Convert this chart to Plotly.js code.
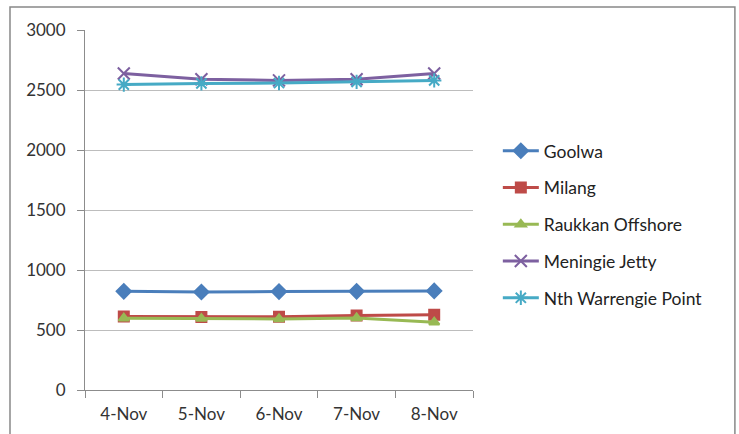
<!DOCTYPE html>
<html>
<head>
<meta charset="utf-8">
<script src="https://cdn.plot.ly/plotly-3.0.1.min.js"></script>
<style>html,body{margin:0;padding:0;background:#fff;}#chart{width:739px;height:434px;}</style>
</head>
<body>
<div id="chart"></div>
<script>
const categories = ["4-Nov", "5-Nov", "6-Nov", "7-Nov", "8-Nov"];
const seriesNames = ["Goolwa", "Milang", "Raukkan Offshore", "Meningie Jetty", "Nth Warrengie Point"];
const goolwa = [822, 817, 820, 822, 826];
const milang = [612, 608, 610, 620, 628];
const raukkan = [598, 595, 592, 600, 565];
const meningie = [2638, 2590, 2580, 2590, 2638];
const warrengie = [2545, 2555, 2558, 2568, 2580];
const yTicks = [0, 500, 1000, 1500, 2000, 2500, 3000];

const colors = ["#4A7EBB", "#BE4B48", "#98B954", "#7D60A0", "#46AAC5"];
const symbols = ["diamond", "square", "triangle-up", "x-thin-open", "asterisk-open"];
const sizes = [11, 10, 9, 12, 12];
const values = [goolwa, milang, raukkan, meningie, warrengie];

const traces = values.map((v, i) => ({
  type: "scatter",
  mode: "lines+markers",
  name: seriesNames[i],
  legendgroup: "g" + i,
  x: categories,
  y: v,
  line: {color: colors[i], width: 3},
  marker: {symbol: symbols[i], size: sizes[i], color: colors[i], line: {color: colors[i], width: 2}}
}));

const layout = {
  width: 739, height: 434,
  margin: {l: 85, r: 266, t: 30, b: 44},
  paper_bgcolor: "#fff", plot_bgcolor: "#fff",
  font: {family: "Lato, 'Liberation Sans', sans-serif", size: 17, color: "#333"},
  showlegend: true,
  legend: {x: 1.064, xanchor: "left", y: 0.46, yanchor: "middle", tracegroupgap: 11, itemwidth: 36,
           font: {size: 17.5, color: "#222"}, bgcolor: "rgba(0,0,0,0)"},
  xaxis: {type: "category", range: [-0.5, 4.5], showgrid: false, showline: true, linecolor: "#8c8c8c", linewidth: 1,
          ticks: "outside", tickson: "boundaries", ticklen: 7, tickcolor: "#8c8c8c", fixedrange: true,
          tickfont: {size: 17, color: "#333"}, ticklabelstandoff: 9},
  yaxis: {range: [0, 3000], tickvals: yTicks, ticktext: yTicks.map(String), showgrid: true, gridcolor: "#bdbdbd", gridwidth: 1,
          showline: true, linecolor: "#8c8c8c", linewidth: 1, ticks: "outside", ticklen: 7, tickcolor: "#8c8c8c",
          zeroline: false, tickfont: {size: 17, color: "#333"}, ticklabelstandoff: 8},
  shapes: [{type: "rect", xref: "paper", yref: "paper", x0: -0.1933, x1: 1.675, y0: -0.16, y1: 1.064,
            line: {color: "#888", width: 1.5}, fillcolor: "rgba(0,0,0,0)", layer: "below"}]
};

Plotly.newPlot("chart", traces, layout, {displayModeBar: false, staticPlot: true});
</script>
</body>
</html>
